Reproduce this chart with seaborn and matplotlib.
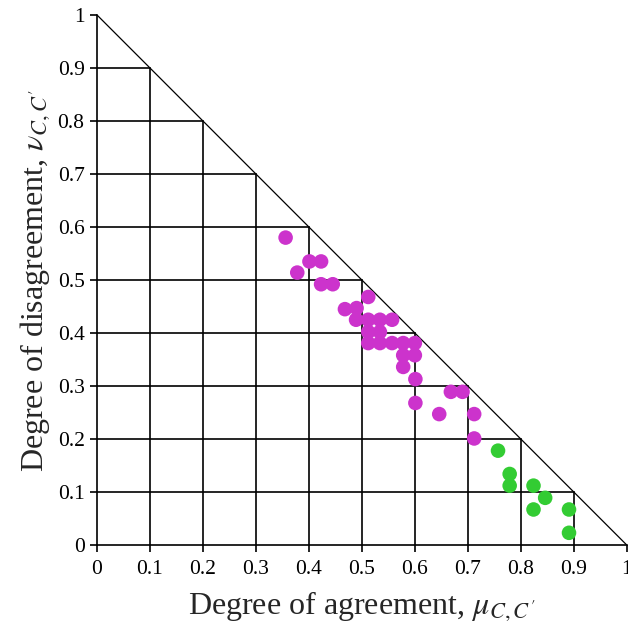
import numpy as np
import pandas as pd
import seaborn as sns
import matplotlib
matplotlib.use("Agg")
import matplotlib.pyplot as plt

# Data
agree_mag = [0.356, 0.378, 0.401, 0.423, 0.423, 0.445, 0.468, 0.490, 0.489, 0.512,
             0.512, 0.534, 0.557, 0.512, 0.534, 0.512, 0.534, 0.557, 0.578, 0.600,
             0.578, 0.600, 0.578, 0.601, 0.601, 0.646, 0.668, 0.690, 0.712, 0.712]
disagree_mag = [0.580, 0.514, 0.535, 0.535, 0.492, 0.492, 0.445, 0.447, 0.425, 0.468,
                0.425, 0.425, 0.425, 0.402, 0.402, 0.381, 0.381, 0.381, 0.381, 0.381,
                0.358, 0.358, 0.336, 0.313, 0.268, 0.247, 0.289, 0.289, 0.247, 0.201]
agree_grn = [0.757, 0.779, 0.779, 0.824, 0.846, 0.824, 0.891, 0.891]
disagree_grn = [0.178, 0.134, 0.112, 0.112, 0.089, 0.067, 0.067, 0.023]

ticks = [0, 0.1, 0.2, 0.3, 0.4, 0.5, 0.6, 0.7, 0.8, 0.9, 1]
tick_labels = ["0", "0.1", "0.2", "0.3", "0.4", "0.5", "0.6", "0.7", "0.8", "0.9", "1"]

df = pd.DataFrame({
    "mu": agree_mag + agree_grn,
    "nu": disagree_mag + disagree_grn,
    "group": ["a"] * len(agree_mag) + ["b"] * len(agree_grn),
})

sns.set_theme(style="ticks")
plt.rcParams["font.family"] = ["Liberation Serif", "DejaVu Serif"]
plt.rcParams["mathtext.fontset"] = "stix"

fig = plt.figure(figsize=(6.28, 6.25), dpi=100)
ax = fig.add_axes([0.1545, 0.128, 0.8435, 0.848])

# grid inside the triangle only
for t in ticks[1:-1]:
    ax.plot([t, t], [0, 1 - t], color="black", lw=1.2, zorder=1)
    ax.plot([0, 1 - t], [t, t], color="black", lw=1.2, zorder=1)
ax.plot([0, 1], [1, 0], color="black", lw=0.9, zorder=1)

sns.scatterplot(data=df, x="mu", y="nu", hue="group",
                palette={"a": "#cc33cc", "b": "#33cc33"},
                s=110, edgecolor="none", legend=False, ax=ax, zorder=3,
                clip_on=False)

ax.set_xlim(0, 1)
ax.set_ylim(0, 1)
ax.set_xticks(ticks)
ax.set_xticklabels(tick_labels, fontsize=15.5)
ax.set_yticks(ticks)
ax.set_yticklabels(tick_labels, fontsize=15.5)
ax.tick_params(axis="both", length=5, width=1.2, color="black", labelcolor="black")
ax.tick_params(axis="x", pad=6)
ax.tick_params(axis="y", pad=4)

for side in ["top", "right"]:
    ax.spines[side].set_visible(False)
for side in ["left", "bottom"]:
    ax.spines[side].set_color("black")
    ax.spines[side].set_linewidth(1.2)

ax.set_xlabel("Degree of agreement, $\\mu_{C,C'}$", fontsize=23, labelpad=7)
ax.set_ylabel("Degree of disagreement, $\\nu_{C,C'}$", fontsize=23, labelpad=4)

fig.savefig("out.png", dpi=100)
